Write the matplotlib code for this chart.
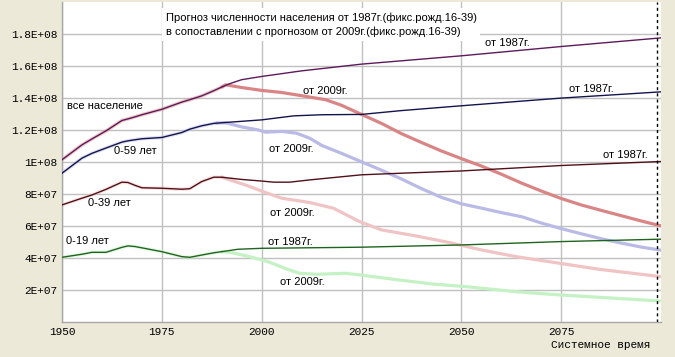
import matplotlib
matplotlib.use("Agg")
import matplotlib.pyplot as plt
import numpy as np

# ---------------- data (millions of people) ----------------
hist_years = [1950, 1955, 1957.5, 1961, 1965, 1966.5, 1968.3, 1970, 1975, 1980, 1982, 1985, 1988, 1990]

all_hist = [101.5, 110.8, 114.5, 119.5, 126.0, 127.0, 128.3, 129.6, 133.0, 137.5, 139.0, 141.4, 144.6, 146.9]
all87_years = [1990, 1992, 1995, 2000, 2010, 2025, 2050, 2075, 2100]
all87_vals = [146.9, 149.0, 151.5, 153.5, 157.0, 161.2, 166.4, 172.2, 177.6]
all09_years = [1990, 1991, 1995, 2000, 2005, 2010, 2016, 2020, 2025, 2030, 2035, 2040, 2045, 2050,
               2055, 2060, 2065, 2070, 2075, 2080, 2085, 2090, 2095, 2100]
all09_vals = [146.9, 148.3, 146.6, 144.8, 143.5, 141.5, 139.0, 135.5, 129.8, 124.2, 117.8, 112.3, 107.0,
              102.2, 97.6, 92.5, 87.0, 82.0, 77.3, 73.3, 69.9, 66.6, 63.3, 60.2]

a59_hist = [93.1, 102.5, 105.5, 108.8, 112.5, 113.3, 114.0, 114.6, 115.4, 118.5, 120.6, 122.7, 124.2, 124.6]
a59_87_years = [1990, 1995, 2000, 2008, 2015, 2025, 2035, 2050, 2075, 2100]
a59_87_vals = [124.6, 125.5, 126.4, 128.9, 129.6, 129.8, 132.2, 135.2, 140.0, 143.9]
a59_09_years = [1988.7, 1991, 1995, 1999, 2001, 2005, 2008.7, 2012, 2015, 2020, 2025, 2030, 2035, 2040,
                2045, 2050, 2055, 2060, 2065, 2070, 2075, 2080, 2085, 2090, 2095, 2100]
a59_09_vals = [124.4, 124.6, 122.0, 120.2, 118.7, 119.2, 118.1, 115.0, 110.5, 105.5, 100.2, 95.0, 89.5,
               83.5, 78.0, 74.0, 71.3, 68.5, 66.0, 62.0, 58.5, 55.3, 52.2, 49.5, 47.0, 45.0]

a39_hist = [73.3, 77.5, 79.5, 83.0, 87.5, 87.3, 85.5, 84.0, 83.7, 83.1, 83.4, 87.9, 90.6, 90.6]
a39_87_years = [1990, 1995, 2000, 2003, 2007, 2012, 2025, 2035, 2050, 2075, 2100]
a39_87_vals = [90.6, 89.2, 88.2, 87.5, 87.5, 88.9, 92.1, 93.1, 94.5, 97.9, 100.4]
a39_09_years = [1990, 1994.5, 1997, 2001, 2005, 2012, 2018, 2024.5, 2030, 2038.7, 2047, 2055, 2063.7,
                2074.5, 2084.5, 2100]
a39_09_vals = [90.6, 86.9, 84.8, 81.0, 77.5, 74.8, 71.2, 62.9, 57.7, 53.9, 49.8, 45.2, 41.0, 36.9, 33.1, 28.5]

a19_hist = [40.6, 42.5, 43.7, 43.7, 46.8, 47.7, 47.3, 46.5, 44.1, 41.0, 40.6, 42.0, 43.4, 44.1]
a19_87_years = [1990, 1994, 2000, 2025, 2050, 2075, 2100]
a19_87_vals = [44.1, 45.6, 46.2, 46.9, 48.3, 50.4, 51.9]
a19_09_years = [1990, 1992.5, 1997, 2002, 2006, 2009.5, 2013.7, 2021, 2024.5, 2034.5, 2042.8, 2051,
                2063.7, 2074.5, 2100]
a19_09_vals = [44.1, 43.5, 41.0, 37.5, 33.5, 30.6, 30.0, 30.6, 29.6, 26.4, 23.9, 22.3, 19.1, 17.1, 13.3]

x_ticks = [1950, 1975, 2000, 2025, 2050, 2075]
y_ticks = [2e7, 4e7, 6e7, 8e7, 1e8, 1.2e8, 1.4e8, 1.6e8, 1.8e8]
y_tick_labels = ["2E+07", "4E+07", "6E+07", "8E+07", "1E+08", "1.2E+08", "1.4E+08", "1.6E+08", "1.8E+08"]
end_marker_year = 2099

title_lines = ["Прогноз численности населения от 1987г.(фикс.рожд.16-39)",
               "в сопоставлении с прогнозом от 2009г.(фикс.рожд.16-39)"]

# ---------------- figure ----------------
W, H = 675, 357
fig = plt.figure(figsize=(W / 100, H / 100), dpi=100, facecolor="#ECE9D8")
x0, x1, ytop, ybot = 62, 661, 2, 322.3
ax = fig.add_axes([x0 / W, 1 - ybot / H, (x1 - x0) / W, (ybot - ytop) / H])
ax.set_facecolor("white")
ax.set_xlim(1950, 2100)
ax.set_ylim(0, 2e8)

grid_c = "#c0c0c0"
ax.set_xticks(x_ticks)
ax.set_yticks(y_ticks)
ax.set_yticklabels(y_tick_labels)
ax.grid(True, color=grid_c, linewidth=1.0)
ax.set_axisbelow(True)
for s in ["top", "right"]:
    ax.spines[s].set_visible(False)
for s in ["left", "bottom"]:
    ax.spines[s].set_color("#a8a8a8")
    ax.spines[s].set_linewidth(1.0)
ax.tick_params(length=0, pad=3.5, labelsize=8, colors="black")
for lab in ax.get_xticklabels() + ax.get_yticklabels():
    lab.set_family("Liberation Mono")

M = 1e6
def cat(h, y, v):
    return list(hist_years) + list(y[1:]), list(h) + list(v[1:])

series = [
    (all_hist, all87_years, all87_vals, all09_years, all09_vals, "#5c1a5a", "#da8585"),
    (a59_hist, a59_87_years, a59_87_vals, a59_09_years, a59_09_vals, "#14144c", "#babae6"),
    (a39_hist, a39_87_years, a39_87_vals, a39_09_years, a39_09_vals, "#501018", "#f0c4c4"),
    (a19_hist, a19_87_years, a19_87_vals, a19_09_years, a19_09_vals, "#1e641e", "#c4f2c4"),
]

# 2009 forecasts (thick, light) under; shared history only as a faint halo
for h, y87, v87, y09, v09, c87, c09 in series:
    hy = [yy for yy in hist_years if yy <= y09[0]]
    hv = [vv for yy, vv in zip(hist_years, h) if yy <= y09[0]]
    if hy[-1] != y09[0]:
        hy.append(y09[0]); hv.append(v09[0])
    ax.plot(hy, np.array(hv) * M, color=c09, alpha=0.45, linewidth=2.6, zorder=2)
    ax.plot(y09, np.array(v09) * M, color=c09, linewidth=2.3, solid_capstyle="round", zorder=2)
# 1987 forecasts (thin, dark) on top
for h, y87, v87, y09, v09, c87, c09 in series:
    xs, vs = cat(h, y87, v87)
    ax.plot(xs, np.array(vs) * M, color=c87, linewidth=1.0, zorder=3)

ax.axvline(end_marker_year, color="black", linewidth=1.0, linestyle=(0, (2.2, 2.2)), zorder=4)

def ftext(px, py, s, **kw):
    fig.text(px / W, 1 - py / H, s, fontsize=8, family="Liberation Sans", va="center", ha="left", **kw)

# title box
fig.text(165.5 / W, 1 - 24.5 / H, "\n".join(title_lines), fontsize=8, family="Liberation Sans",
         va="center", ha="left", linespacing=1.38,
         bbox=dict(boxstyle="square,pad=0.35", facecolor="white", edgecolor="none"), zorder=10)

ftext(67, 106, "все население")
ftext(114, 150.5, "0-59 лет")
ftext(88, 203, "0-39 лет")
ftext(66.5, 241, "0-19 лет")
ftext(303, 91.5, "от 2009г.")
ftext(269, 149, "от 2009г.")
ftext(270.5, 212.5, "от 2009г.")
ftext(279.5, 282, "от 2009г.")
ftext(485, 43, "от 1987г.")
ftext(569, 89, "от 1987г.")
ftext(603, 155.5, "от 1987г.")
ftext(267.5, 242, "от 1987г.")

fig.text(601 / W, 1 - 345 / H, "Системное время", fontsize=8, family="Liberation Mono",
         ha="center", va="center")

fig.savefig("out.png", dpi=100, facecolor=fig.get_facecolor())
